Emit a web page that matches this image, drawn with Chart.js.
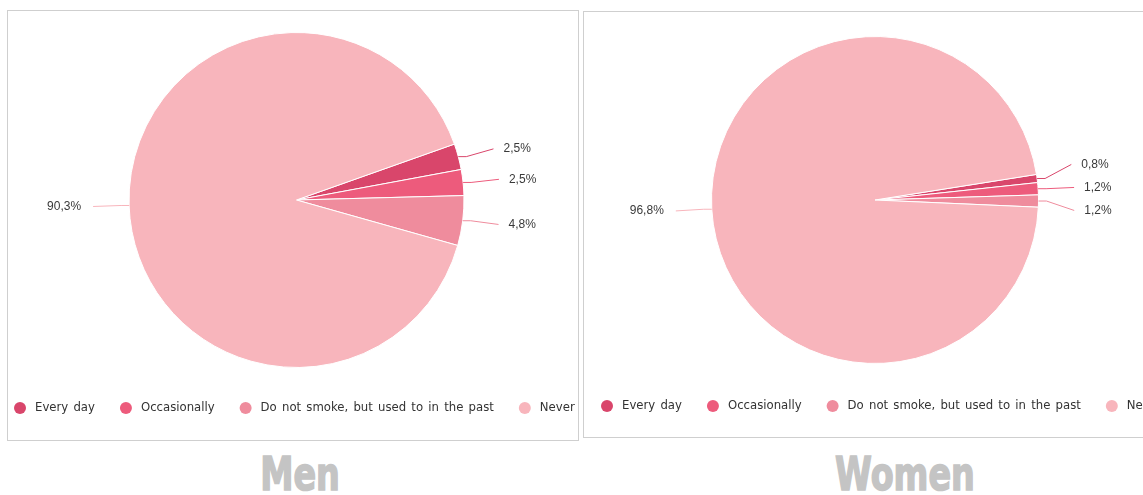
<!DOCTYPE html>
<html>
<head>
<meta charset="utf-8">
<script src="https://cdn.jsdelivr.net/npm/chart.js@4.4.0/dist/chart.umd.min.js"></script>
<style>
  body { margin: 0; background: #fff; overflow: hidden; width: 1143px; height: 495px; position: relative; }
  .panel { position: absolute; border: 1px solid #cfcfcf; overflow: hidden; background: #fff; }
  #menBox { left: 7px; top: 10px; width: 570px; height: 429px; }
  #womenBox { left: 583px; top: 11px; width: 600px; height: 425px; }
  .title {
    position: absolute; top: 444px; width: 300px; text-align: center;
    font-family: 'DejaVu Sans Condensed', 'DejaVu Sans', sans-serif; font-weight: bold;
    font-size: 47px; line-height: 60px; color: #c4c4c4;
    -webkit-text-stroke: 1.5px #c4c4c4;
    transform: scaleX(0.79); transform-origin: center;
  }
</style>
</head>
<body>
<div class="panel" id="menBox"><canvas id="menChart" width="570" height="429"></canvas></div>
<div class="panel" id="womenBox"><canvas id="womenChart" width="600" height="425"></canvas></div>
<div class="title" style="left:150px">Men</div>
<div class="title" style="left:755px">Women</div>
<script>
const categories = ['Every day', 'Occasionally', 'Do not smoke, but used to in the past', 'Never'];
const menValues = [2.5, 2.5, 4.8, 90.3];
const womenValues = [0.8, 1.2, 1.2, 96.8];
const sliceColors = ['#d9466b', '#ed5b7c', '#ef8c9d', '#f8b5bc'];

const fmt = v => v.toFixed(1).replace('.', ',') + '%';

// labels outside the pie with connector lines
const pieLabels = {
    id: 'pieLabels',
    afterDatasetsDraw(chart) {
        const ctx = chart.ctx;
        const meta = chart.getDatasetMeta(0);
        const values = chart.data.datasets[0].data;
        const colors = chart.data.datasets[0].backgroundColor;
        const items = meta.data.map((arc, i) => {
            const p = arc.getProps(['x', 'y', 'startAngle', 'endAngle', 'outerRadius'], true);
            const mid = (p.startAngle + p.endAngle) / 2;
            const side = Math.cos(mid) >= 0 ? 1 : -1;
            return { i, p, mid, side, y: p.y + (p.outerRadius + 30) * Math.sin(mid) };
        });
        [1, -1].forEach(side => {
            const group = items.filter(it => it.side === side).sort((a, b) => a.y - b.y);
            for (let k = 0; k < 30; k++) {
                for (let j = 1; j < group.length; j++) {
                    const gap = group[j].y - group[j - 1].y;
                    if (gap < 23) {
                        const d = (23 - gap) / 2;
                        group[j - 1].y -= d;
                        group[j].y += d;
                    }
                }
            }
        });
        ctx.save();
        ctx.font = '12px "Liberation Sans", Arial, sans-serif';
        ctx.textBaseline = 'middle';
        items.forEach(it => {
            const { x, y, outerRadius: r } = it.p;
            const ex = x + r * Math.cos(it.mid);
            const ey = y + r * Math.sin(it.mid);
            const dy = it.y - y;
            const R = r + 36;
            const lx = x + it.side * Math.sqrt(Math.max(R * R - dy * dy, 0));
            ctx.strokeStyle = colors[it.i];
            ctx.lineWidth = 1;
            ctx.beginPath();
            ctx.moveTo(ex, ey);
            ctx.lineTo(ex + it.side * 8, ey);
            ctx.lineTo(lx, it.y);
            ctx.stroke();
            ctx.fillStyle = '#3a3a3a';
            ctx.textAlign = it.side > 0 ? 'left' : 'right';
            ctx.fillText(fmt(values[it.i]), lx + it.side * (it.side > 0 ? 10 : 12), it.y);
        });
        ctx.restore();
    }
};

// one-row legend that runs off the panel edge like the original
const rowLegend = {
    id: 'rowLegend',
    afterDraw(chart, args, opts) {
        const ctx = chart.ctx;
        const colors = chart.data.datasets[0].backgroundColor;
        ctx.save();
        ctx.font = '11.7px "DejaVu Sans", sans-serif';
        ctx.wordSpacing = '1.5px';
        ctx.textBaseline = 'middle';
        ctx.textAlign = 'left';
        let cx = opts.x;
        chart.data.labels.forEach((label, i) => {
            ctx.fillStyle = colors[i];
            ctx.beginPath();
            ctx.arc(cx, opts.y, 6, 0, Math.PI * 2);
            ctx.fill();
            ctx.fillStyle = '#333';
            ctx.fillText(label, cx + 15, opts.y);
            cx += 15 + ctx.measureText(label).width + 31;
        });
        ctx.restore();
    }
};

function makePie(id, values, rotation, padding, legendPos) {
    return new Chart(document.getElementById(id), {
        type: 'pie',
        data: {
            labels: categories,
            datasets: [{
                data: values,
                backgroundColor: sliceColors,
                borderColor: '#fff',
                borderWidth: 1
            }]
        },
        options: {
            responsive: false,
            animation: false,
            rotation: rotation,
            layout: { padding: padding },
            plugins: {
                legend: { display: false },
                tooltip: { enabled: false },
                rowLegend: legendPos
            }
        },
        plugins: [pieLabels, rowLegend]
    });
}

makePie('menChart', menValues, 70.5, { top: 21, bottom: 72, left: 120, right: 113 }, { x: 12, y: 397 });
makePie('womenChart', womenValues, 81, { top: 24, bottom: 73, left: 127, right: 145 }, { x: 23, y: 394 });
</script>
</body>
</html>
